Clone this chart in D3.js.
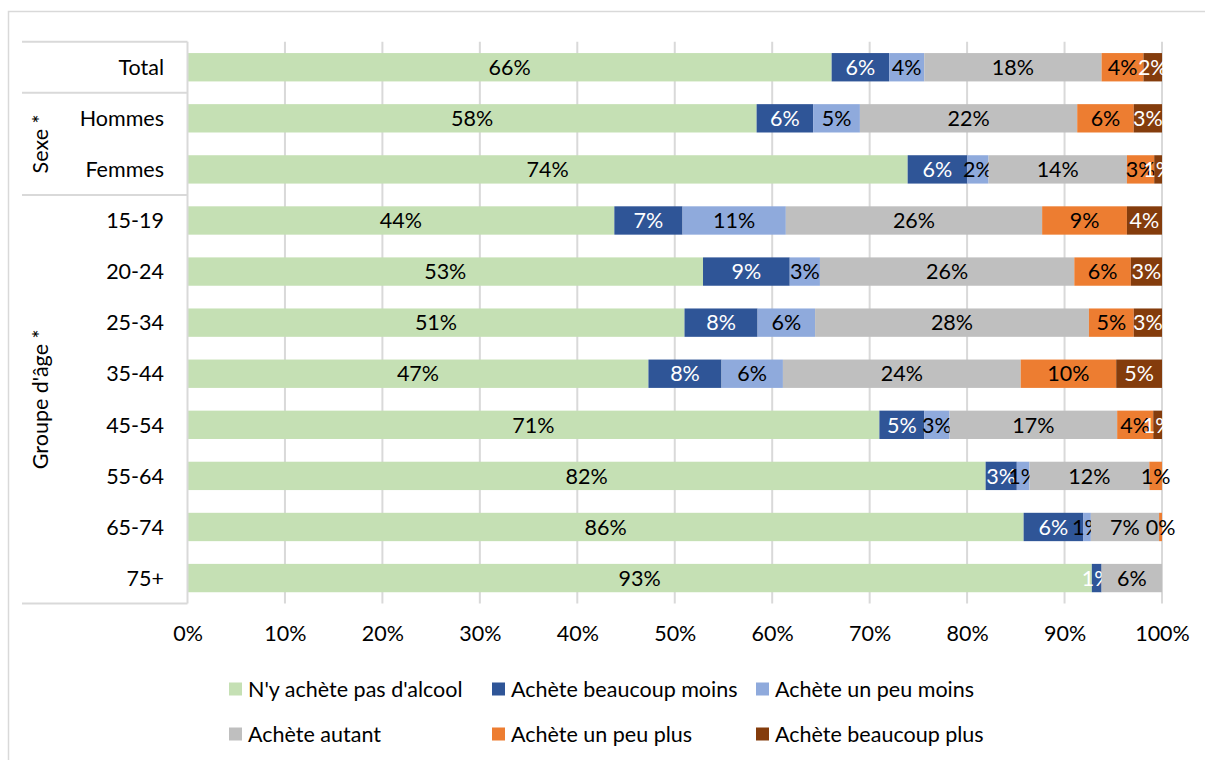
<!DOCTYPE html>
<html>
<head>
<meta charset="utf-8">
<script src="https://cdn.jsdelivr.net/npm/d3@7"></script>
<style>
  body { margin: 0; background: #fff; }
  svg text { font-family: Lato, "Open Sans", sans-serif; }
</style>
</head>
<body>
<div id="chart"></div>
<script>
// rows top to bottom
const categories = ["Total", "Hommes", "Femmes", "15-19", "20-24", "25-34", "35-44", "45-54", "55-64", "65-74", "75+"];

const series = ["N'y achète pas d'alcool", "Achète beaucoup moins", "Achète un peu moins",
  "Achète autant", "Achète un peu plus", "Achète beaucoup plus"];

// percentages per series, one value per category
const pasAlcool     = [66.1, 58.4, 73.9, 43.8, 52.9, 51.0, 47.3, 71.0, 81.9, 85.8, 92.8];
const beaucoupMoins = [5.9, 5.8, 6.1, 7.0, 8.9, 7.5, 7.5, 4.6, 3.2, 6.1, 1.0];
const unPeuMoins    = [3.6, 4.8, 2.2, 10.6, 3.1, 5.9, 6.3, 2.6, 1.3, 0.8, 0];
const autant        = [18.2, 22.3, 14.2, 26.3, 26.1, 28.1, 24.4, 17.2, 12.3, 7.0, 6.2];
const unPeuPlus     = [4.3, 5.8, 2.8, 8.7, 5.8, 4.6, 9.8, 3.7, 1.3, 0.3, 0];
const beaucoupPlus  = [1.9, 2.9, 0.8, 3.6, 3.2, 2.9, 4.7, 0.9, 0, 0, 0];

const xTicks = [0, 10, 20, 30, 40, 50, 60, 70, 80, 90, 100];

const groups = [
  { label: "Sexe *", from: "Hommes", to: "Femmes" },
  { label: "Groupe d'âge *", from: "15-19", to: "75+" }
];

const colors = ["#C5E0B4", "#2F5597", "#8FAADC", "#BFBFBF", "#ED7D31", "#843C0C"];
const labelColors = ["#000", "#fff", "#000", "#000", "#000", "#fff"];

const W = 1205, H = 760;
const margin = { top: 41.7, left: 187.5, right: 43, bottom: 156.4 };
const tableLeft = 22;
const fontSize = "21.5px";

const svg = d3.select("#chart").append("svg")
  .attr("width", W)
  .attr("height", H);

// outer chart border
svg.append("rect")
  .attr("x", 8.5).attr("y", 11.5)
  .attr("width", W + 20).attr("height", H + 20)
  .attr("fill", "none")
  .attr("stroke", "#d9d9d9")
  .attr("stroke-width", 1.5);

const x = d3.scaleLinear()
  .domain([0, 100])
  .range([margin.left, W - margin.right]);

const y = d3.scaleBand()
  .domain(categories)
  .range([margin.top, H - margin.bottom])
  .paddingInner(0.445)
  .paddingOuter(0.2225);

// build rows for the stack
const allValues = [pasAlcool, beaucoupMoins, unPeuMoins, autant, unPeuPlus, beaucoupPlus];
const rows = categories.map((c, i) => {
  const r = { cat: c };
  series.forEach((s, j) => { r[s] = allValues[j][i]; });
  return r;
});

const stacked = d3.stack().keys(series)(rows);

// gridlines
svg.append("g")
  .selectAll("line")
  .data(xTicks.slice(1))
  .enter().append("line")
  .attr("x1", d => x(d)).attr("x2", d => x(d))
  .attr("y1", margin.top).attr("y2", H - margin.bottom)
  .attr("stroke", "#d9d9d9")
  .attr("stroke-width", 2);

// bars
const layers = svg.append("g")
  .selectAll("g")
  .data(stacked)
  .enter().append("g")
  .attr("fill", (d, i) => colors[i]);

layers.selectAll("rect")
  .data(d => d)
  .enter().append("rect")
  .attr("x", d => x(d[0]))
  .attr("y", d => y(d.data.cat))
  .attr("width", d => x(d[1]) - x(d[0]))
  .attr("height", y.bandwidth());

// data labels
layers.each(function (layer, i) {
  d3.select(this).selectAll("text")
    .data(layer.filter(d => d[1] - d[0] > 0))
    .enter().append("text")
    .attr("x", d => (x(d[0]) + x(d[1])) / 2)
    .attr("y", d => y(d.data.cat) + y.bandwidth() / 2)
    .attr("dy", "0.36em")
    .attr("text-anchor", "middle")
    .attr("fill", labelColors[i])
    .style("font-size", fontSize)
    .text(d => Math.round(d[1] - d[0]) + "%");
});

// category table lines
const step = y.step();
const tableLine = "#d9d9d9";
const lineYs = [margin.top, y("Hommes") - (step - y.bandwidth()) / 2,
  y("15-19") - (step - y.bandwidth()) / 2, H - margin.bottom];

svg.append("g")
  .selectAll("line")
  .data(lineYs)
  .enter().append("line")
  .attr("x1", tableLeft).attr("x2", margin.left)
  .attr("y1", d => d).attr("y2", d => d)
  .attr("stroke", tableLine)
  .attr("stroke-width", 2);

svg.append("line")
  .attr("x1", margin.left).attr("x2", margin.left)
  .attr("y1", margin.top).attr("y2", H - margin.bottom)
  .attr("stroke", tableLine)
  .attr("stroke-width", 2);

// category labels
svg.append("g")
  .selectAll("text")
  .data(categories)
  .enter().append("text")
  .attr("x", 164)
  .attr("y", d => y(d) + y.bandwidth() / 2)
  .attr("dy", "0.36em")
  .attr("text-anchor", "end")
  .style("font-size", fontSize)
  .attr("fill", "#000")
  .text(d => d);

// group labels (rotated)
groups.forEach(g => {
  const y0 = y(g.from) - (step - y.bandwidth()) / 2;
  const y1 = y(g.to) + y.bandwidth() + (step - y.bandwidth()) / 2;
  svg.append("text")
    .attr("transform", `translate(40, ${(y0 + y1) / 2}) rotate(-90)`)
    .attr("dy", "0.36em")
    .attr("text-anchor", "middle")
    .style("font-size", fontSize)
    .text(g.label);
});

// x axis tick labels
const xAxis = d3.axisBottom(x)
  .tickValues(xTicks)
  .tickFormat(d => d + "%")
  .tickSize(0)
  .tickPadding(0);

const gx = svg.append("g")
  .attr("transform", `translate(0, 626)`)
  .call(xAxis);
gx.select(".domain").remove();
gx.selectAll("text")
  .style("font-size", fontSize)
  .attr("font-family", null)
  .attr("fill", "#000");

// legend
const legendCols = [229, 492, 756];
const legendRows = [689, 734];
const legend = svg.append("g")
  .selectAll("g")
  .data(series)
  .enter().append("g")
  .attr("transform", (d, i) => `translate(${legendCols[i % 3]}, ${legendRows[Math.floor(i / 3)]})`);

legend.append("rect")
  .attr("x", 0).attr("y", -6.5)
  .attr("width", 13).attr("height", 13)
  .attr("fill", (d, i) => colors[i]);

legend.append("text")
  .attr("x", 19)
  .attr("dy", "0.36em")
  .style("font-size", fontSize)
  .attr("fill", "#000")
  .text(d => d);
</script>
</body>
</html>
